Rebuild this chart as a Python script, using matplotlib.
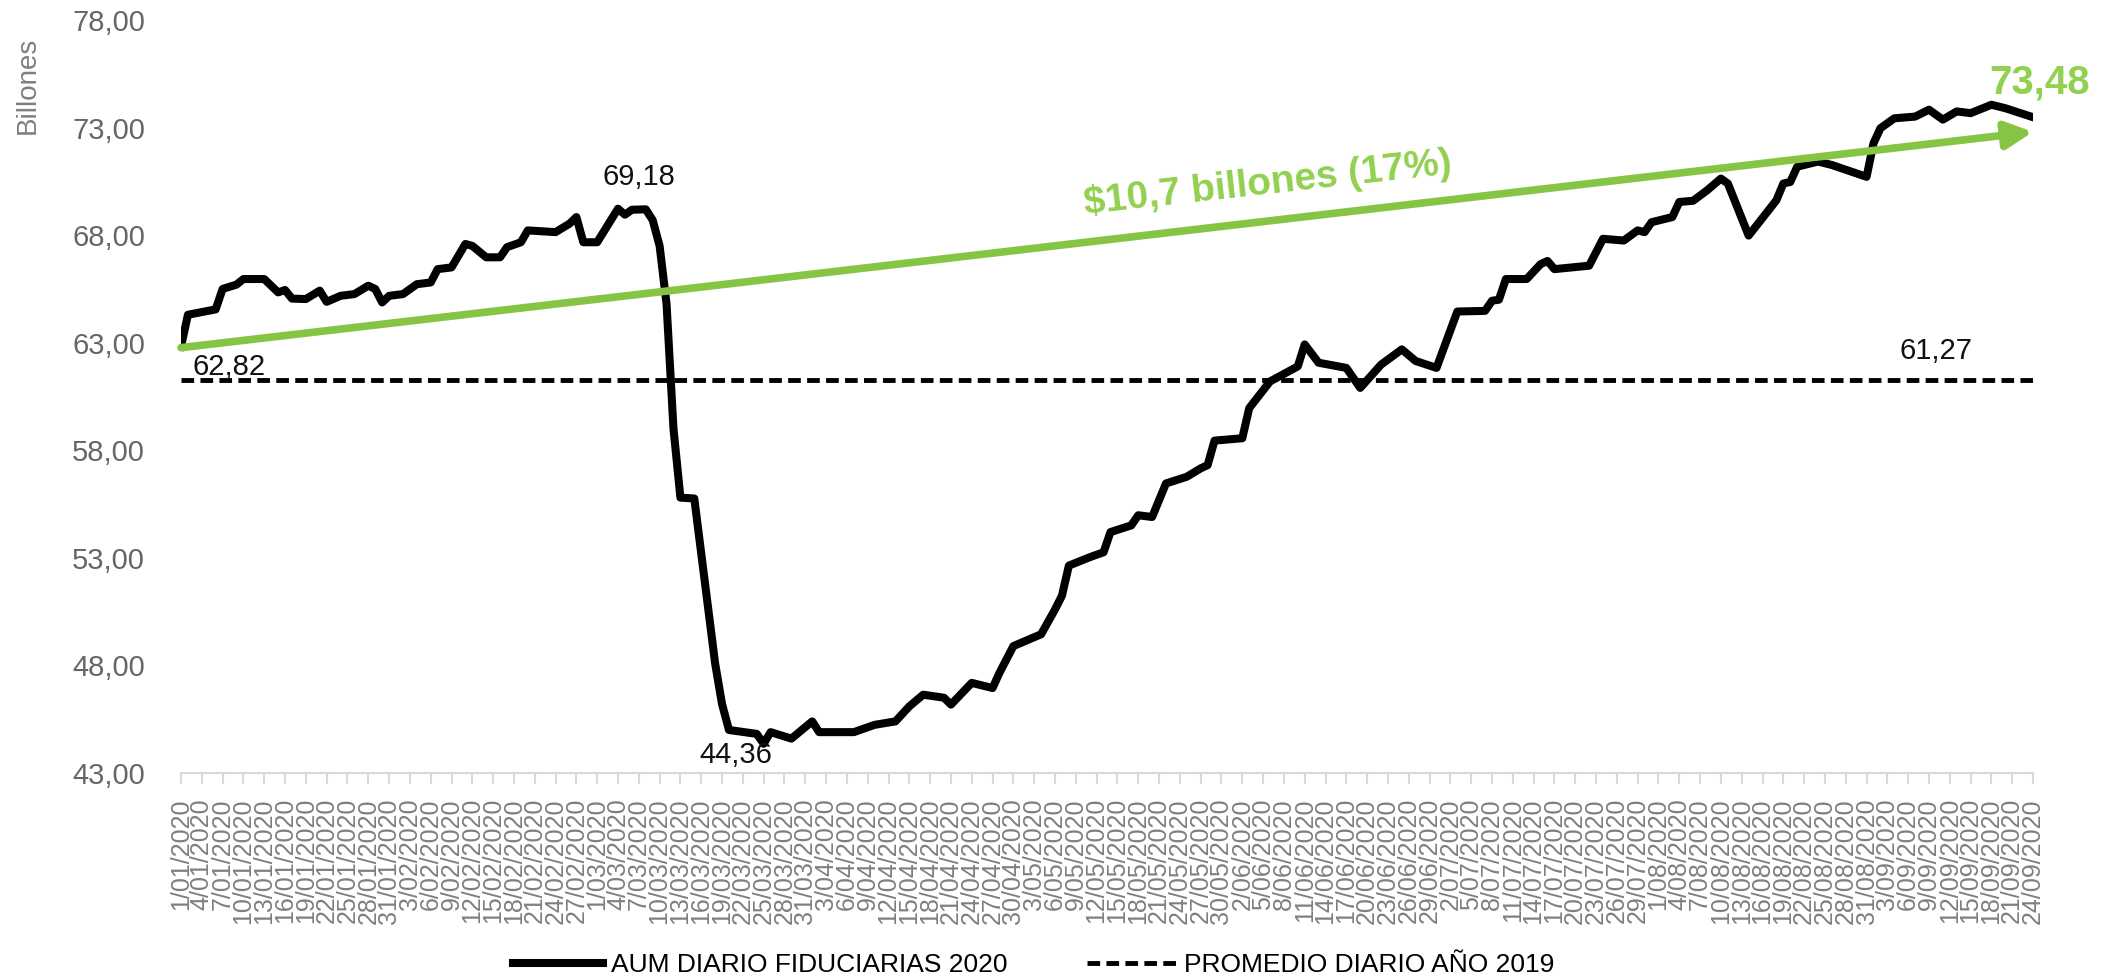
import matplotlib

matplotlib.use("Agg")
import matplotlib.pyplot as plt
import pandas as pd
from matplotlib.lines import Line2D

matplotlib.rcParams.update(
    {
        "font.family": ["Liberation Sans", "DejaVu Sans"],
        "axes.spines.top": False,
        "axes.spines.right": False,
        "axes.spines.left": False,
    }
)

START = pd.Timestamp("2020-01-01")
END = pd.Timestamp("2020-09-24")

# days since 1/01/2020 and daily AUM (billones)
day_offset = [
    0, 1, 5, 6, 8, 9, 12, 14, 15, 16, 18, 20, 21, 23, 25, 27, 28, 29, 30, 32,
    34, 36, 37, 39, 41, 42, 44, 46, 47, 49, 50, 54, 56, 57, 58, 60, 63, 64, 65, 67,
    68, 69, 70, 71, 72, 74, 75, 76, 77, 78, 79, 83, 84, 85, 88, 91, 92, 97, 100, 103,
    105, 107, 110, 111, 114, 117, 118, 120, 124, 126, 127, 128, 131, 133, 134, 137, 138, 140, 142, 145,
    147, 148, 149, 153, 154, 157, 161, 162, 164, 168, 170, 173, 176, 178, 181, 184, 188, 189, 190, 191,
    194, 196, 197, 198, 203, 205, 208, 210, 211, 212, 215, 216, 218, 220, 222, 223, 226, 230, 231, 232,
    233, 236, 238, 243, 244, 245, 247, 250, 252, 254, 256, 258, 261, 263, 267,
]
aum = [
    62.82, 64.30, 64.55, 65.50, 65.70, 65.96, 65.96, 65.34, 65.45, 65.05, 65.03, 65.42, 64.90, 65.18, 65.26, 65.65, 65.50, 64.87, 65.18, 65.26,
    65.72, 65.80, 66.42, 66.50, 67.59, 67.50, 66.97, 66.97, 67.44, 67.67, 68.22, 68.14, 68.53, 68.84, 67.67, 67.67, 69.23, 68.95, 69.18, 69.20,
    68.70, 67.50, 64.80, 59.00, 55.80, 55.76, 53.20, 50.60, 48.10, 46.20, 45.00, 44.82, 44.36, 44.90, 44.60, 45.40, 44.90, 44.90, 45.24, 45.40,
    46.10, 46.64, 46.50, 46.18, 47.19, 46.95, 47.66, 48.90, 49.45, 50.60, 51.24, 52.64, 53.03, 53.26, 54.20, 54.51, 54.98, 54.90, 56.46, 56.77,
    57.16, 57.31, 58.45, 58.56, 59.96, 61.20, 61.90, 62.92, 62.07, 61.83, 60.90, 61.98, 62.69, 62.15, 61.83, 64.45, 64.48, 64.95, 65.00, 65.96,
    65.96, 66.65, 66.80, 66.42, 66.58, 67.83, 67.75, 68.22, 68.14, 68.60, 68.84, 69.54, 69.60, 70.08, 70.63, 70.40, 67.98, 69.62, 70.40, 70.47,
    71.18, 71.42, 71.26, 70.71, 72.27, 72.97, 73.43, 73.51, 73.83, 73.37, 73.75, 73.67, 74.06, 73.90, 73.48,
]
promedio_2019 = 61.27
trend_start = 62.77
trend_end = 72.80

y_ticks = [43, 48, 53, 58, 63, 68, 73, 78]

GREEN = "#92D050"
GREEN_LINE = "#86C543"


def fmt(v: float) -> str:
    return f"{v:.2f}".replace(".", ",")


dates = START + pd.to_timedelta(day_offset, unit="D")
ticks = pd.date_range(START, END, freq="3D")
tick_labels = [f"{t.day}/{t.month:02d}/{t.year}" for t in ticks]

fig = plt.figure(figsize=(21.07, 9.8), dpi=100)
ax = fig.add_axes([0.0859, 0.2112, 0.879, 0.7684])

ax.plot(dates, aum, color="black", lw=5.8, solid_joinstyle="round", label="AUM DIARIO FIDUCIARIAS 2020", zorder=3)
ax.plot([START, END], [promedio_2019, promedio_2019], color="black", lw=3.5, dashes=(2.6, 1.3),
        label="PROMEDIO DIARIO AÑO 2019", zorder=2)

ax.annotate(
    "",
    xy=(END, trend_end),
    xytext=(START, trend_start),
    arrowprops=dict(arrowstyle="-|>,head_length=0.4,head_width=0.2", lw=5.5, color=GREEN_LINE,
                    mutation_scale=40, shrinkA=0, shrinkB=0),
    zorder=4,
)

ax.set_xlim(START, END)
ax.set_ylim(43, 78)
ax.set_yticks(y_ticks)
ax.set_yticklabels([fmt(v) for v in y_ticks])
ax.tick_params(axis="y", length=0, pad=26, labelsize=21, labelcolor="#666666")
ax.set_xticks(ticks)
ax.set_xticklabels(tick_labels, rotation=90)
ax.tick_params(axis="x", length=8, width=1.5, color="#d9d9d9", pad=10, labelsize=18, labelcolor="#7f7f7f")
ax.spines["bottom"].set_color("#d9d9d9")
ax.spines["bottom"].set_linewidth(1.5)

fig.text(0.0133, 0.913, "Billones", rotation=90, ha="center", va="center", fontsize=20, color="#7f7f7f")

# data labels
lab = dict(fontsize=21, color="#111111", ha="center", va="center", zorder=5)
ax.text(START + pd.Timedelta(days=7), 61.85, fmt(aum[0]), **lab)
ax.text(START + pd.Timedelta(days=66), 70.7, fmt(69.18), **lab)
ax.text(START + pd.Timedelta(days=80), 43.85, fmt(min(aum)), **lab)
ax.text(START + pd.Timedelta(days=253), 62.63, fmt(promedio_2019), **lab)
ax.text(START + pd.Timedelta(days=268), 75.1, fmt(aum[-1]), fontsize=29, fontweight="bold", color=GREEN,
        ha="center", va="center", zorder=5)
ax.text(START + pd.Timedelta(days=156.6), 70.4, "$10,7 billones (17%)", fontsize=28, fontweight="bold",
        color=GREEN, rotation=6.3, ha="center", va="center", rotation_mode="anchor", zorder=5)

handles = [
    Line2D([], [], color="black", lw=5.8),
    Line2D([], [], color="black", lw=3.5, dashes=(2.6, 1.3)),
]
fig.legend(
    handles,
    ["AUM DIARIO FIDUCIARIAS 2020", "PROMEDIO DIARIO AÑO 2019"],
    loc="center",
    bbox_to_anchor=(0.4907, 0.0153),
    ncol=2,
    frameon=False,
    fontsize=19,
    handlelength=3.4,
    handletextpad=0.3,
    columnspacing=3.0,
)

fig.savefig("out.png", dpi=100)
plt.close(fig)
